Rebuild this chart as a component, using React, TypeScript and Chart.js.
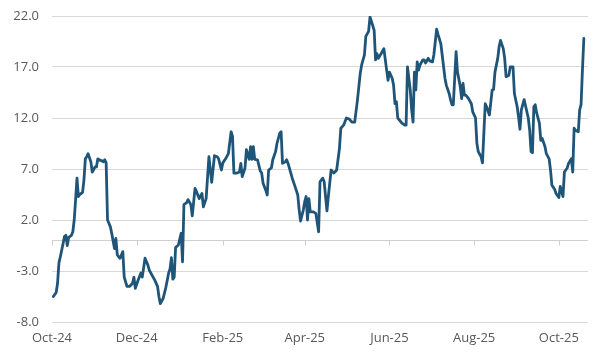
import { useEffect, useRef } from "react";
import { Chart, registerables } from "chart.js";

Chart.register(...registerables);

// Day offsets from 1 Oct 2024
const days = [
  1, 3, 4, 5, 6, 8, 9, 10, 11, 12, 14, 15, 16, 17, 18, 19, 20, 22, 23, 24, 25, 26, 28, 29, 31, 32, 33, 34, 36, 37, 38, 39,
  40, 42, 43, 45, 46, 47, 48, 49, 51, 52, 54, 56, 58, 59, 60, 62, 64, 65, 67, 69, 70, 72, 74, 76, 77, 78, 80, 82, 83, 84,
  85, 86, 87, 88, 89, 91, 93, 94, 95, 97, 98, 100, 101, 103, 104, 106, 108, 109, 111, 113, 115, 117, 119, 120, 122, 123,
  125, 127, 129, 130, 131, 133, 135, 136, 137, 139, 140, 142, 143, 144, 145, 146, 148, 150, 151, 152, 154, 155, 156, 158,
  159, 161, 162, 164, 165, 166, 168, 169, 170, 172, 173, 175, 177, 178, 179, 181, 182, 183, 184, 185, 186, 188, 190, 192,
  193, 195, 196, 198, 199, 201, 203, 205, 207, 208, 210, 212, 214, 216, 218, 220, 221, 222, 223, 225, 226, 228, 229, 230,
  232, 233, 234, 235, 237, 239, 241, 242, 243, 245, 246, 247, 248, 249, 252, 254, 255, 256, 258, 259, 260, 261, 262, 263,
  264, 265, 267, 268, 269, 271, 272, 274, 275, 277, 278, 280, 283, 284, 286, 287, 288, 289, 291, 292, 294, 295, 296, 297,
  298, 300, 302, 303, 305, 306, 307, 309, 310, 312, 313, 315, 317, 318, 319, 321, 322, 323, 325, 326, 327, 329, 330, 332,
  333, 335, 336, 337, 338, 340, 341, 343, 344, 345, 346, 347, 348, 349, 351, 352, 353, 355, 356, 358, 359, 360, 362, 363,
  365, 366, 368, 369, 371, 372, 374, 375, 376, 377, 379, 380, 381, 382, 383,
];

const values = [
  -5.5, -5.1, -4.2, -2.2, -1.6, -0.3, 0.4, 0.5, -0.5, 0.3, 0.5, 0.85, 2.0, 4.0, 6.1, 4.3, 4.5, 4.7, 5.9, 8.0, 8.2, 8.5, 7.7,
  6.7, 7.2, 7.2, 8.0, 7.9, 7.8, 7.7, 7.9, 7.6,
  2.0, 1.35, 0.7, -0.8, 0.2, -1.4, -1.6, -1.75, -1.1, -3.6, -4.5, -4.5, -4.2, -3.6, -4.7, -3.9, -3.2, -3.6, -1.75, -2.4,
  -2.9, -3.4, -3.9, -4.5, -5.5, -6.2, -5.7, -4.6, -3.9, -3.2,
  -2.8, -1.7, -3.8, -3.6, -0.7, -0.45, 0.7, -2.1, 3.5, 3.7, 4.0, 3.5, 2.4, 5.1, 4.8, 4.1, 4.6, 3.3, 4.1, 8.2, 5.7, 8.3, 8.2,
  8.0, 6.9, 7.6,
  8.0, 8.5, 10.65, 10.2, 6.6, 6.6, 6.7, 7.55, 6.25, 7.1, 8.9, 7.95, 9.2, 7.95, 9.2, 7.95, 7.9, 6.8, 6.6, 5.6, 4.9, 4.45,
  6.9, 7.1,
  7.9, 8.7, 9.5, 10.5, 10.65, 7.55, 7.7, 7.9, 7.55, 6.6, 6.1, 5.3, 4.45, 3.0, 1.9, 3.0, 3.8, 4.3, 2.0, 4.1, 2.8, 2.8, 2.65,
  0.85,
  5.75, 6.1, 5.75, 2.9, 4.3, 6.9, 6.6, 6.9, 9.0, 11.0, 11.3, 12.0, 11.9, 11.6, 11.6, 13.8, 15.1, 16.4, 17.2, 18.2, 20.0,
  20.5, 21.9, 21.5,
  20.6, 17.7, 18.3, 17.85, 18.3, 18.8, 16.7, 15.7, 16.5, 15.9, 15.2, 13.4, 13.6, 12.0, 11.5, 11.3, 11.3, 17.0, 14.75, 12.8,
  11.6, 16.5, 14.75, 17.5,
  16.7, 17.2, 17.7, 17.7, 17.4, 17.85, 17.6, 17.5, 18.2, 20.7, 20.2, 19.3, 15.9, 15.2, 14.4, 13.8, 13.3, 13.3, 18.5, 16.5,
  15.1, 13.9, 15.4, 14.25,
  14.25, 13.9, 13.4, 12.6, 12.0, 9.5, 8.7, 8.2, 7.6, 13.4, 13.1, 12.3, 14.75, 14.8, 16.5, 17.85, 19.0, 19.6, 18.8, 17.85,
  16.05, 16.2, 17.0, 17.0,
  14.4, 13.1, 12.1, 10.9, 12.8, 13.8, 13.2, 12.0, 10.8, 8.7, 8.6, 13.1, 13.3, 12.5, 11.5, 9.8, 10.0, 9.2, 8.5, 8.0, 6.9,
  5.4, 5.0, 4.6,
  4.2, 5.3, 4.3, 6.7, 7.1, 7.55, 8.0, 6.7, 11.0, 10.8, 10.65, 12.8, 13.3, 16.7, 19.8,
];

const xTickDays = [0, 61, 123, 182, 243, 304, 365];
const xTickLabels = ["Oct-24", "Dec-24", "Feb-25", "Apr-25", "Jun-25", "Aug-25", "Oct-25"];
const yTicks = [-8, -3, 2, 7, 12, 17, 22];

export default function App() {
  const ref = useRef<HTMLCanvasElement>(null);

  useEffect(() => {
    document.body.style.margin = "0";
    const zeroAxis = {
      id: "zeroAxis",
      beforeDatasetsDraw(chart: any) {
        const { ctx, chartArea, scales } = chart;
        const y = Math.round(scales.y.getPixelForValue(0)) + 0.5;
        ctx.save();
        ctx.strokeStyle = "#d0d0d0";
        ctx.lineWidth = 1;
        ctx.beginPath();
        ctx.moveTo(chartArea.left, y);
        ctx.lineTo(chartArea.right, y);
        xTickDays.forEach((d) => {
          const x = Math.round(scales.x.getPixelForValue(d)) + 0.5;
          ctx.moveTo(x, y);
          ctx.lineTo(x, y + 5);
        });
        ctx.stroke();
        ctx.restore();
      },
    };

    const chart = new Chart(ref.current as HTMLCanvasElement, {
      type: "line",
      data: {
        datasets: [
          {
            data: days.map((d, i) => ({ x: d, y: values[i] })),
            borderColor: "#1f5578",
            borderWidth: 2.8,
            pointRadius: 0,
            tension: 0,
            borderJoinStyle: "round",
            borderCapStyle: "round",
          },
        ],
      },
      options: {
        animation: false,
        responsive: true,
        maintainAspectRatio: false,
        layout: { padding: { left: 0, right: 12, top: 16, bottom: 0 } },
        plugins: { legend: { display: false }, tooltip: { enabled: false } },
        scales: {
          x: {
            type: "linear",
            min: 0,
            max: 386,
            afterFit: (scale: any) => {
              scale.height = 40;
            },
            grid: { display: false, drawTicks: false },
            border: { display: false },
            afterBuildTicks: (scale: any) => {
              scale.ticks = xTickDays.map((v) => ({ value: v }));
            },
            ticks: {
              autoSkip: false,
              maxRotation: 0,
              padding: 8,
              color: "#595959",
              font: { family: "'Open Sans', sans-serif", size: 13 },
              callback: (v: any) => {
                const i = xTickDays.indexOf(Number(v));
                return i >= 0 ? xTickLabels[i] : "";
              },
            },
          },
          y: {
            min: -8,
            max: 22,
            afterFit: (scale: any) => {
              scale.width = 52;
              scale.paddingTop = 0;
              scale.paddingBottom = 0;
            },
            afterBuildTicks: (scale: any) => {
              scale.ticks = yTicks.map((v) => ({ value: v }));
            },
            grid: { color: "#d9d9d9", lineWidth: 1, drawTicks: false },
            border: { display: false },
            ticks: {
              padding: 13,
              color: "#595959",
              font: { family: "'Open Sans', sans-serif", size: 13 },
              callback: (v: any) => Number(v).toFixed(1),
            },
          },
        },
      },
      plugins: [zeroAxis],
    });
    return () => chart.destroy();
  }, []);

  return (
    <div style={{ position: "relative", width: 600, height: 362 }}>
      <canvas ref={ref} />
    </div>
  );
}
